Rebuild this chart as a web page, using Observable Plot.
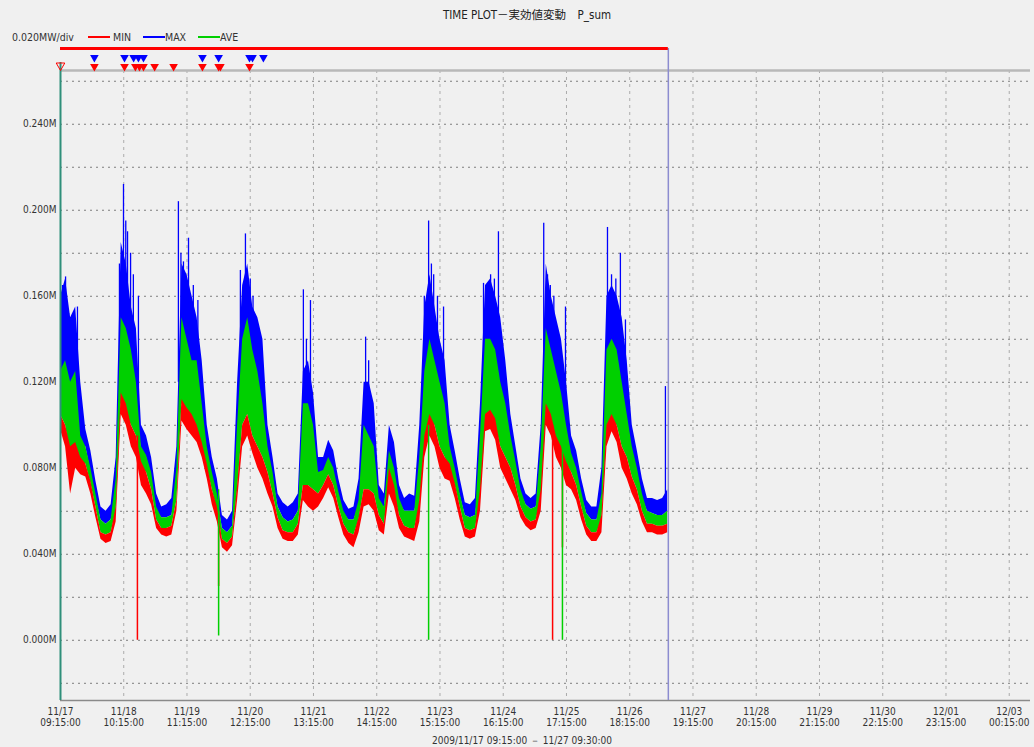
<!DOCTYPE html>
<html><head><meta charset="utf-8">
<script src="https://cdn.jsdelivr.net/npm/d3@7"></script>
<script src="https://cdn.jsdelivr.net/npm/@observablehq/plot@0.6"></script>
<style>
html,body{margin:0;padding:0;background:#f0f0f0;width:1034px;height:747px;overflow:hidden;}
body{position:relative;font-family:'DejaVu Sans Condensed','Liberation Sans Narrow','Liberation Sans',sans-serif;color:#333;}
#title{position:absolute;top:6px;left:0;width:1054px;text-align:center;font-size:11.5px;font-family:'DejaVu Sans Condensed','Noto Sans CJK JP',sans-serif;color:#222;}
#legend{position:absolute;top:30px;left:0;width:400px;height:14px;font-size:10.5px;}
#legend span{position:absolute;top:0;line-height:14px;white-space:nowrap;}
#legend i{position:absolute;top:6px;height:2px;width:22px;display:block;}
#chart{position:absolute;top:40px;left:0;}
#caption{position:absolute;top:734px;left:0;width:1044px;text-align:center;font-size:10px;}
</style>
</head><body>
<div id="title"></div>
<div id="legend"></div>
<div id="chart"></div>
<div id="caption"></div>
<script>
// ---- texts ----
const titleText = "TIME PLOT－実効値変動　P_sum";
const scaleText = "0.020MW/div";
const seriesNames = ["MIN", "MAX", "AVE"];
const seriesColors = ["#ff0000", "#0000ff", "#00d000"];
const captionText = "2009/11/17 09:15:00 － 11/27 09:30:00";

// ---- axes ----
const xTickLabels = ["11/17 09:15:00","11/18 10:15:00","11/19 11:15:00","11/20 12:15:00","11/21 13:15:00","11/22 14:15:00","11/23 15:15:00","11/24 16:15:00","11/25 17:15:00","11/26 18:15:00","11/27 19:15:00","11/28 20:15:00","11/29 21:15:00","11/30 22:15:00","12/01 23:15:00","12/03 00:15:00"];
const yTicks = [0, 0.04, 0.08, 0.12, 0.16, 0.20, 0.24];
const yGrid = [-0.02, 0, 0.02, 0.04, 0.06, 0.08, 0.10, 0.12, 0.14, 0.16, 0.18, 0.20, 0.22, 0.24, 0.26];
const yDomain = [-0.028, 0.265];
const startLabel = "11/17 09:15:00";
const dataEndLabel = "11/27 09:30:00";
const axisEndLabel = "12/03 08:39:00";
const sampleStepHours = 2; // samples every 2 hours from start

// ---- series (MW), 2-hour envelopes of each noisy trace ----
const maxHi = [0.160,0.168,0.150,0.155,0.120,0.098,0.088,0.074,0.062,0.060,0.063,0.085,
0.185,0.175,0.155,0.145,0.100,0.095,0.085,0.068,0.062,0.063,0.066,0.090,
0.175,0.170,0.160,0.150,0.130,0.100,0.085,0.075,0.058,0.056,0.060,0.120,
0.165,0.175,0.155,0.150,0.140,0.100,0.085,0.068,0.064,0.062,0.064,0.068,
0.125,0.130,0.115,0.085,0.085,0.093,0.088,0.075,0.065,0.061,0.062,0.075,
0.120,0.120,0.110,0.072,0.068,0.100,0.092,0.072,0.066,0.068,0.067,0.100,
0.155,0.170,0.155,0.140,0.130,0.100,0.088,0.075,0.064,0.063,0.066,0.110,
0.165,0.168,0.160,0.150,0.130,0.105,0.090,0.075,0.068,0.066,0.068,0.100,
0.175,0.160,0.150,0.140,0.120,0.095,0.088,0.075,0.065,0.062,0.062,0.080,
0.160,0.165,0.160,0.150,0.130,0.100,0.088,0.075,0.066,0.066,0.065,0.066,0.070];
const maxLo = [0.120,0.115,0.100,0.100,0.090,0.090,0.078,0.066,0.056,0.055,0.057,0.065,
0.130,0.130,0.120,0.110,0.088,0.085,0.075,0.060,0.057,0.057,0.058,0.070,
0.130,0.130,0.120,0.115,0.100,0.088,0.075,0.066,0.052,0.050,0.053,0.080,
0.120,0.130,0.120,0.115,0.100,0.085,0.075,0.062,0.058,0.056,0.057,0.060,
0.090,0.090,0.085,0.075,0.077,0.083,0.078,0.067,0.059,0.056,0.056,0.062,
0.085,0.085,0.080,0.063,0.062,0.080,0.075,0.064,0.060,0.061,0.060,0.070,
0.110,0.125,0.120,0.105,0.100,0.088,0.078,0.067,0.058,0.057,0.059,0.075,
0.120,0.125,0.120,0.110,0.100,0.090,0.080,0.068,0.063,0.061,0.062,0.072,
0.130,0.120,0.110,0.100,0.090,0.085,0.078,0.067,0.059,0.056,0.056,0.062,
0.110,0.125,0.120,0.110,0.095,0.085,0.077,0.066,0.060,0.060,0.059,0.060,0.060];
const aveHi = [0.125,0.130,0.120,0.125,0.095,0.090,0.080,0.068,0.056,0.054,0.056,0.075,
0.150,0.145,0.135,0.120,0.090,0.086,0.078,0.062,0.057,0.057,0.058,0.080,
0.150,0.140,0.130,0.130,0.110,0.090,0.078,0.068,0.052,0.050,0.053,0.100,
0.140,0.150,0.135,0.125,0.110,0.090,0.078,0.062,0.057,0.055,0.056,0.060,
0.110,0.110,0.100,0.078,0.079,0.085,0.080,0.069,0.060,0.056,0.056,0.065,
0.100,0.095,0.090,0.066,0.062,0.088,0.080,0.066,0.060,0.060,0.060,0.085,
0.125,0.140,0.130,0.120,0.110,0.090,0.080,0.068,0.058,0.057,0.058,0.095,
0.140,0.140,0.135,0.120,0.110,0.095,0.083,0.070,0.063,0.061,0.062,0.090,
0.145,0.135,0.125,0.115,0.100,0.087,0.080,0.069,0.059,0.056,0.056,0.068,
0.135,0.140,0.135,0.120,0.105,0.090,0.080,0.068,0.060,0.059,0.058,0.058,0.060];
const aveLo = [0.105,0.100,0.085,0.088,0.083,0.083,0.073,0.062,0.052,0.050,0.052,0.060,
0.110,0.105,0.100,0.095,0.080,0.078,0.070,0.057,0.053,0.053,0.054,0.065,
0.110,0.105,0.100,0.098,0.090,0.080,0.070,0.060,0.048,0.046,0.048,0.070,
0.100,0.105,0.095,0.090,0.085,0.078,0.070,0.057,0.053,0.051,0.052,0.055,
0.075,0.078,0.075,0.070,0.072,0.078,0.073,0.063,0.055,0.052,0.051,0.056,
0.070,0.072,0.070,0.058,0.056,0.072,0.068,0.059,0.055,0.055,0.054,0.062,
0.090,0.100,0.100,0.090,0.085,0.080,0.072,0.062,0.054,0.053,0.054,0.065,
0.100,0.100,0.100,0.090,0.085,0.080,0.075,0.064,0.059,0.057,0.058,0.065,
0.105,0.100,0.090,0.085,0.082,0.078,0.072,0.062,0.054,0.052,0.052,0.056,
0.095,0.100,0.100,0.090,0.085,0.078,0.071,0.061,0.056,0.055,0.054,0.054,0.055];
const minHi = [0.105,0.100,0.090,0.092,0.085,0.082,0.074,0.062,0.050,0.049,0.050,0.062,
0.115,0.110,0.100,0.095,0.083,0.078,0.070,0.056,0.052,0.052,0.053,0.065,
0.112,0.108,0.105,0.100,0.092,0.082,0.070,0.062,0.047,0.045,0.048,0.072,
0.100,0.105,0.095,0.090,0.085,0.078,0.068,0.057,0.051,0.050,0.050,0.054,
0.072,0.072,0.070,0.068,0.072,0.077,0.072,0.062,0.054,0.050,0.049,0.057,
0.070,0.070,0.068,0.058,0.054,0.080,0.072,0.058,0.053,0.052,0.052,0.065,
0.095,0.105,0.100,0.090,0.085,0.082,0.073,0.062,0.052,0.051,0.052,0.070,
0.105,0.107,0.103,0.090,0.085,0.080,0.072,0.062,0.057,0.055,0.056,0.070,
0.110,0.105,0.095,0.090,0.083,0.078,0.072,0.062,0.053,0.050,0.050,0.058,
0.100,0.105,0.100,0.090,0.085,0.076,0.070,0.060,0.054,0.054,0.053,0.053,0.054];
const minLo = [0.098,0.090,0.068,0.080,0.077,0.076,0.068,0.057,0.047,0.045,0.046,0.055,
0.105,0.100,0.090,0.085,0.072,0.068,0.063,0.052,0.049,0.048,0.049,0.060,
0.102,0.098,0.095,0.092,0.085,0.075,0.063,0.055,0.043,0.041,0.044,0.065,
0.090,0.095,0.087,0.080,0.075,0.068,0.062,0.052,0.047,0.046,0.046,0.049,
0.065,0.062,0.060,0.062,0.066,0.071,0.066,0.057,0.049,0.045,0.043,0.050,
0.062,0.063,0.060,0.051,0.049,0.068,0.062,0.052,0.048,0.047,0.046,0.055,
0.085,0.095,0.090,0.080,0.075,0.074,0.066,0.056,0.048,0.047,0.048,0.060,
0.097,0.098,0.093,0.080,0.075,0.070,0.065,0.057,0.053,0.051,0.052,0.060,
0.100,0.095,0.085,0.080,0.072,0.070,0.065,0.056,0.049,0.046,0.046,0.050,
0.090,0.097,0.092,0.080,0.075,0.068,0.063,0.055,0.050,0.050,0.049,0.049,0.050];

// ---- narrow MAX spikes (hours after start, peak MW, base MW) ----
const spikeHours = [0.8,2.0,3.2,4.2,6.7,23.3,24.9,25.8,26.5,27.7,28.8,30.8,46.6,47.6,48.6,50.6,52.5,54.3,71.1,72.2,73.1,75.0,76.1,77.1,96.0,97.2,98.8,120.6,121.8,143.8,145.5,146.6,147.5,149.0,151.4,167.2,168.6,170.0,171.5,173.1,191.0,192.5,193.6,195.0,199.6,216.2,217.8,219.5,221.3,223.3,239.1];
const spikePeak  = [0.165,0.169,0.152,0.150,0.155,0.175,0.212,0.195,0.190,0.180,0.170,0.160,0.204,0.180,0.176,0.187,0.165,0.158,0.172,0.160,0.189,0.168,0.160,0.150,0.163,0.140,0.158,0.141,0.130,0.160,0.195,0.175,0.170,0.160,0.155,0.166,0.165,0.170,0.168,0.190,0.194,0.170,0.165,0.160,0.155,0.192,0.170,0.168,0.180,0.149,0.118];
const spikeBase  = [0.120,0.120,0.110,0.110,0.110,0.120,0.130,0.130,0.130,0.120,0.110,0.100,0.120,0.130,0.120,0.120,0.110,0.100,0.110,0.120,0.120,0.110,0.110,0.100,0.090,0.090,0.090,0.090,0.085,0.110,0.110,0.120,0.110,0.100,0.100,0.120,0.120,0.120,0.110,0.110,0.120,0.120,0.110,0.110,0.100,0.110,0.120,0.120,0.110,0.100,0.065];

// ---- drop-outs (hours after start, low MW, top MW) ----
const redDropHours = [30.4, 62.5, 194.5, 198.4];
const redDropLow   = [0.000, 0.025, 0.000, 0.043];
const redDropTop   = [0.095, 0.060, 0.100, 0.085];
const greenDropHours = [62.5, 145.5, 198.4];
const greenDropLow   = [0.002, 0.000, 0.000];
const greenDropTop   = [0.070, 0.100, 0.090];

// ---- event markers (hours after start) ----
const blueEventHours = [13.4, 25.3, 28.9, 30.8, 32.8, 56.1, 62.5, 74.7, 75.9, 80.2];
const redEventHours  = [13.4, 25.3, 29.6, 31.2, 32.8, 37.2, 44.7, 56.1, 62.5, 63.2, 74.7];

// ---- build ----
const parseLabel = s => {
  const m = s.match(/(\d+)\/(\d+) (\d+):(\d+)/);
  return new Date(Date.UTC(2009, +m[1]-1, +m[2], +m[3], +m[4]));
};
const tStart = parseLabel(startLabel);
const dataEnd = parseLabel(dataEndLabel);
const axisEnd = parseLabel(axisEndLabel);
const HOUR = 3600e3;
const at = h => new Date(tStart.getTime() + h * HOUR);
const tickDates = xTickLabels.map(parseLabel);
const tickText = new Map(tickDates.map((d, i) => [+d, xTickLabels[i].replace(" ", "\n")]));

const n = Math.min(maxHi.length, maxLo.length, aveHi.length, aveLo.length, minHi.length, minLo.length);
const rows = d3.range(n).map(i => ({
  t: at(i * sampleStepHours),
  maxHi: maxHi[i], maxLo: maxLo[i], aveHi: aveHi[i], aveLo: aveLo[i], minHi: minHi[i], minLo: minLo[i]
}));
const spikes = spikeHours.map((h, i) => ({t: at(h), peak: spikePeak[i], base: spikeBase[i]}));
const redDrops = redDropHours.map((h, i) => ({t: at(h), lo: redDropLow[i], hi: redDropTop[i]}));
const greenDrops = greenDropHours.map((h, i) => ({t: at(h), lo: greenDropLow[i], hi: greenDropTop[i]}));

const yTop = yDomain[1];
const chart = Plot.plot({
  width: 1034, height: 690,
  marginTop: 30, marginBottom: 30, marginLeft: 60, marginRight: 4,
  style: {background: "transparent", fontFamily: "'DejaVu Sans Condensed','Liberation Sans Narrow',sans-serif", fontSize: "10px", color: "#333", overflow: "visible"},
  x: {type: "utc", domain: [tStart, axisEnd], label: null},
  y: {domain: yDomain, label: null},
  marks: [
    Plot.gridY(yGrid, {stroke: "#6a6a6a", strokeOpacity: 0.85, strokeDasharray: "2,4"}),
    Plot.gridX(tickDates, {stroke: "#9a9a9a", strokeOpacity: 0.8, strokeDasharray: "3,4"}),
    Plot.ruleY([yTop], {stroke: "#b8b8b8", strokeWidth: 2.5}),
    Plot.ruleY([yDomain[0]], {stroke: "#8a8a8a", strokeWidth: 1.5}),
    // bands are joined so neighbouring traces touch, as in the dense original plot
    Plot.areaY(rows, {x: "t", y1: d => Math.min(d.maxLo, d.aveHi), y2: "maxHi", fill: seriesColors[1]}),
    Plot.ruleX(spikes, {x: "t", y1: "base", y2: "peak", stroke: seriesColors[1], strokeWidth: 1.3}),
    Plot.areaY(rows, {x: "t", y1: d => Math.min(d.aveLo, d.minHi), y2: "aveHi", fill: seriesColors[2]}),
    Plot.areaY(rows, {x: "t", y1: "minLo", y2: "minHi", fill: seriesColors[0]}),
    Plot.ruleX(redDrops, {x: "t", y1: "lo", y2: "hi", stroke: seriesColors[0], strokeWidth: 1.5}),
    Plot.ruleX(greenDrops, {x: "t", y1: "lo", y2: "hi", stroke: seriesColors[2], strokeWidth: 1.5}),
    Plot.ruleX([tStart], {stroke: "#2f8f7a", strokeWidth: 2, insetTop: -8}),
    Plot.ruleX([dataEnd], {stroke: "#8c8cd0", strokeWidth: 1.5, insetTop: -22}),
    Plot.ruleY([yTop], {x1: () => tStart, x2: () => dataEnd, dy: -22, stroke: "#ff0000", strokeWidth: 3}),
    Plot.dot(blueEventHours, {x: h => at(h), y: () => yTop, dy: -13, symbol: "triangle", rotate: 180, r: 3.2, fill: "#0000ff", stroke: "none"}),
    Plot.dot(redEventHours, {x: h => at(h), y: () => yTop, dy: -4, symbol: "triangle", rotate: 180, r: 3.2, fill: "#ff0000", stroke: "none"}),
    Plot.dot([tStart], {x: d => d, y: () => yTop, dy: -5, symbol: "triangle", rotate: 180, r: 3.2, fill: "none", stroke: "#ff0000", strokeWidth: 1}),
    Plot.axisY(yTicks, {tickFormat: d => d.toFixed(3) + "M", tickSize: 0, tickPadding: 4, fill: "#333", label: null}),
    Plot.axisX(tickDates, {tickFormat: d => tickText.get(+d), tickSize: 0, tickPadding: 7, lineHeight: 1.1, fill: "#333", letterSpacing: "-0.2px", label: null})
  ]
});
document.getElementById("chart").appendChild(chart);

document.getElementById("title").textContent = titleText;
document.getElementById("caption").textContent = captionText;
const lg = document.getElementById("legend");
const legendLayout = [[scaleText, 12], [seriesNames[0], 113, seriesColors[0], 88], [seriesNames[1], 165, seriesColors[1], 143], [seriesNames[2], 220, seriesColors[2], 198]];
for (const [txt, lx, col, sx] of legendLayout) {
  if (col) { const sw = document.createElement("i"); sw.style.left = sx + "px"; sw.style.background = col; lg.appendChild(sw); }
  const s = document.createElement("span"); s.style.left = lx + "px"; s.textContent = txt; lg.appendChild(s);
}
</script>
</body></html>
